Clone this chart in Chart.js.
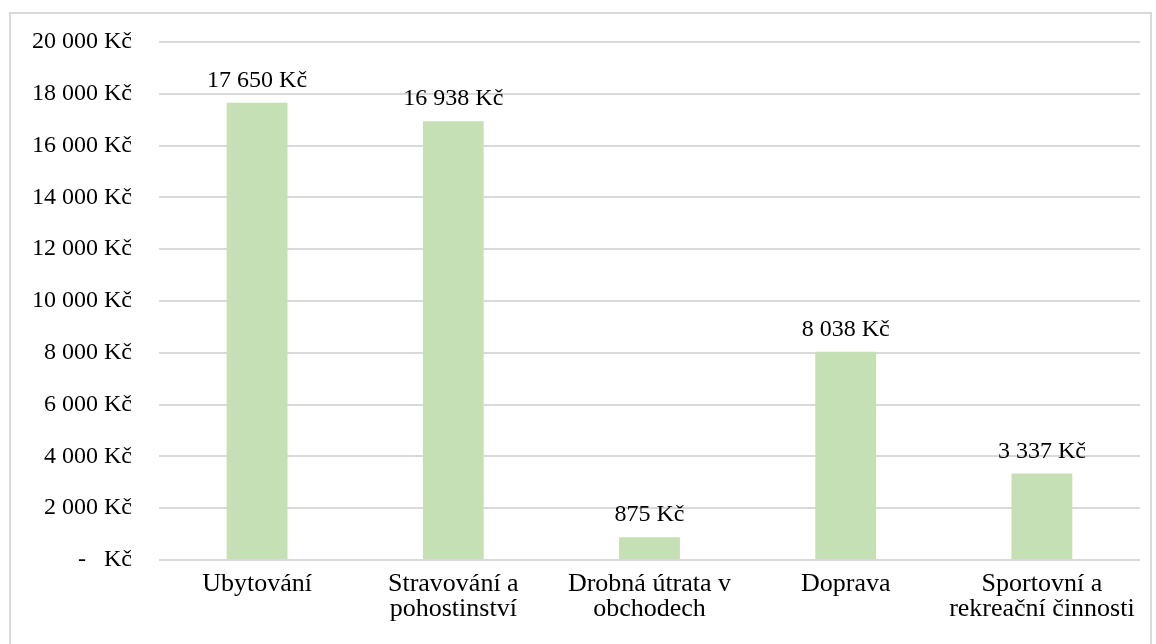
<!DOCTYPE html>
<html>
<head>
<meta charset="utf-8">
<script src="https://cdn.jsdelivr.net/npm/chart.js@4/dist/chart.umd.min.js"></script>
<style>
  html, body { margin: 0; padding: 0; background: #fff; }
  #wrap { position: relative; width: 1156px; height: 644px; overflow: hidden; }
  #frame { position: absolute; left: 9px; top: 12px; width: 1139px; height: 660px; border: 2px solid #d9d9d9; }
  canvas { position: absolute; left: 0; top: 0; }
</style>
</head>
<body>
<div id="wrap">
  <div id="frame"></div>
  <canvas id="bars" width="1156" height="644"></canvas>
</div>
<script>
// kategorie výdajů
const categories = [
  'Ubytování',
  ['Stravování a', 'pohostinství'],
  ['Drobná útrata v', 'obchodech'],
  'Doprava',
  ['Sportovní a', 'rekreační činnosti']
];
const values = [17650, 16938, 875, 8038, 3337];
const yTicks = [0, 2000, 4000, 6000, 8000, 10000, 12000, 14000, 16000, 18000, 20000];

const fontFamily = '"Liberation Serif", "Times New Roman", serif';

function kc(v) {
  if (v === 0) return '-   Kč';
  return String(v).replace(/\B(?=(\d{3})+(?!\d))/g, ' ') + ' Kč';
}

// popisky hodnot nad sloupci
const valueLabels = {
  id: 'valueLabels',
  afterDatasetsDraw(chart) {
    const ctx = chart.ctx;
    const meta = chart.getDatasetMeta(0);
    ctx.save();
    ctx.font = '24px ' + fontFamily;
    ctx.fillStyle = '#000';
    ctx.textAlign = 'center';
    ctx.textBaseline = 'alphabetic';
    meta.data.forEach((bar, i) => {
      ctx.fillText(kc(values[i]), bar.x, bar.y - 16);
    });
    ctx.restore();
  }
};

new Chart(document.getElementById('bars'), {
  type: 'bar',
  data: {
    labels: categories,
    datasets: [{
      data: values,
      backgroundColor: '#c5e0b4',
      borderWidth: 0,
      barPercentage: 0.31,
      categoryPercentage: 1
    }]
  },
  options: {
    responsive: false,
    animation: false,
    layout: { padding: { left: 0, right: 16, top: 42, bottom: 0 } },
    plugins: {
      legend: { display: false },
      tooltip: { enabled: false }
    },
    scales: {
      x: {
        grid: { display: false, drawTicks: false },
        border: { display: false },
        ticks: {
          color: '#000',
          font: { family: fontFamily, size: 26, lineHeight: 0.95 },
          padding: 12,
          maxRotation: 0,
          autoSkip: false
        },
        afterFit(scale) { scale.height = 84; }
      },
      y: {
        min: 0,
        max: 20000,
        afterBuildTicks(scale) { scale.ticks = yTicks.map(v => ({ value: v })); },
        grid: { color: '#d9d9d9', lineWidth: 2, drawTicks: false },
        border: { display: false },
        ticks: {
          color: '#000',
          font: { family: fontFamily, size: 24 },
          padding: 27,
          callback: v => kc(v)
        },
        afterFit(scale) { scale.width = 159; }
      }
    }
  },
  plugins: [valueLabels]
});
</script>
</body>
</html>
